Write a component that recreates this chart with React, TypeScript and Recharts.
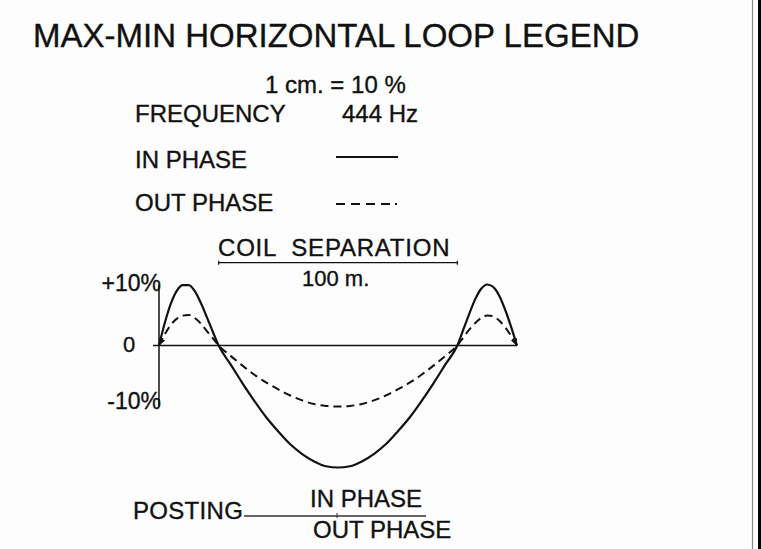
import React from 'react';
import { LineChart, Line, XAxis, YAxis, ReferenceLine } from 'recharts';

// distance along the profile, metres (coil separation = 100 m)
const distance = [
  0, 2.5, 5, 7.5, 10, 12.5, 15, 17.5, 20, 22.5, 25,
  30, 35, 40, 45, 50, 55, 60, 65, 70, 75, 80, 85, 90, 95, 100, 105, 110, 115, 120, 125,
  127.5, 130, 132.5, 135, 137.5, 140, 142.5, 145, 147.5, 150,
];

// in phase response, %
const inPhase = [
  0, 3.8, 6.9, 9.0, 9.9, 9.9, 8.9, 7.0, 4.7, 2.3, 0,
  -3.1, -6.2, -9.1, -11.8, -14.1, -16.2, -17.8, -19.0, -19.8, -20, -19.8, -19.0, -17.8, -16.2, -14.1, -11.8, -9.1, -6.2, -3.1, 0,
  2.6, 5.2, 7.6, 9.3, 10, 9.6, 8.2, 5.9, 3.1, 0,
];

// out phase response, %
const outPhase = [
  0, 1.9, 3.4, 4.4, 4.9, 5.0, 4.5, 3.6, 2.4, 1.2, 0,
  -1.7, -3.3, -4.8, -6.1, -7.2, -8.2, -9.0, -9.6, -9.9, -10, -9.9, -9.6, -9.0, -8.2, -7.2, -6.1, -4.8, -3.3, -1.7, 0,
  1.3, 2.6, 3.7, 4.5, 4.9, 4.8, 4.1, 3.0, 1.6, 0,
];

const yTickValues = [10, 0, -10];
const yTickLabels = ['+10%', '0', '-10%'];

const chartData = distance.map((d, i) => ({ d, inPhase: inPhase[i], outPhase: outPhase[i] }));

const W = 761;
const H = 549;
const PLOT_LEFT = 159;
const PLOT_RIGHT = 517;
const PLOT_TOP = 284.5;
const PLOT_BOTTOM = 467.5;
const PX_PER_UNIT = (PLOT_BOTTOM - PLOT_TOP) / 30;
const FONT = '"Liberation Sans", Arial, Helvetica, sans-serif';
const INK = '#111';

// small arrowheads where the loop curves come back onto the baseline
const renderArrow = (props: any) => {
  const { cx, cy, index } = props;
  const last = chartData.length - 1;
  if (cx == null || (index !== 0 && index !== last)) return <g key={`a${index}`} />;
  const ux = index === 0 ? -0.45 : 0.45;
  const uy = 0.89;
  const bx = cx - 7 * ux;
  const by = cy - 7 * uy;
  const px = -uy * 3;
  const py = ux * 3;
  const pts = `${cx},${cy} ${bx + px},${by + py} ${bx - px},${by - py}`;
  return <polygon key={`a${index}`} points={pts} fill={INK} stroke="none" />;
};

const Txt = ({ x, base, size = 24, right, spacing = 0, children }: any) => (
  <div
    style={{
      position: 'absolute',
      top: base - 0.8465 * size,
      ...(right ? { right: W - x } : { left: x }),
      fontSize: size,
      lineHeight: `${size}px`,
      letterSpacing: spacing,
      whiteSpace: 'pre',
      WebkitTextStroke: '0.35px #111',
    }}
  >
    {children}
  </div>
);

export default function App() {
  return (
    <div
      style={{
        position: 'absolute',
        left: 0,
        top: 0,
        width: W,
        height: H,
        background: '#fdfdfd',
        fontFamily: FONT,
        color: INK,
        overflow: 'hidden',
      }}
    >
      <div style={{ position: 'absolute', left: 0, top: 0 }}>
        <LineChart
          width={W}
          height={H}
          data={chartData}
          margin={{ top: PLOT_TOP, right: W - PLOT_RIGHT, bottom: H - PLOT_BOTTOM, left: PLOT_LEFT }}
        >
          <XAxis type="number" dataKey="d" domain={[0, 150]} hide />
          <YAxis type="number" domain={[-20, 10]} hide />
          {/* zero line and short vertical scale */}
          <ReferenceLine segment={[{ x: -2.5, y: 0 }, { x: 150, y: 0 }]} stroke={INK} strokeWidth={1.5} ifOverflow="visible" />
          <ReferenceLine segment={[{ x: 0, y: 10 }, { x: 0, y: -10 }]} stroke={INK} strokeWidth={1.5} ifOverflow="visible" />
          {/* coil separation bracket */}
          <ReferenceLine segment={[{ x: 25, y: 13.57 }, { x: 125, y: 13.57 }]} stroke={INK} strokeWidth={1.3} ifOverflow="visible" />
          <ReferenceLine segment={[{ x: 25, y: 13.9 }, { x: 25, y: 13.25 }]} stroke={INK} strokeWidth={1.2} ifOverflow="visible" />
          <ReferenceLine segment={[{ x: 125, y: 13.9 }, { x: 125, y: 13.25 }]} stroke={INK} strokeWidth={1.2} ifOverflow="visible" />
          <Line
            dataKey="outPhase"
            type="monotone"
            stroke={INK}
            strokeWidth={2}
            strokeDasharray="8 5"
            dot={renderArrow}
            activeDot={false}
            isAnimationActive={false}
          />
          <Line
            dataKey="inPhase"
            type="monotone"
            stroke={INK}
            strokeWidth={2.2}
            dot={renderArrow}
            activeDot={false}
            isAnimationActive={false}
          />
        </LineChart>
      </div>

      <Txt x={33} base={46.7} size={33}>MAX-MIN HORIZONTAL LOOP LEGEND</Txt>
      <Txt x={265} base={93.3}>1 cm. = 10 %</Txt>
      <Txt x={135} base={122.7}>FREQUENCY</Txt>
      <Txt x={342} base={122.7}>444 Hz</Txt>
      <Txt x={135} base={168.3}>IN PHASE</Txt>
      <Txt x={135} base={211.7}>OUT PHASE</Txt>
      <Txt x={218} base={256.7} spacing={0.8}>COIL  SEPARATION</Txt>
      <Txt x={302} base={286.7} size={22}>100 m.</Txt>

      {yTickValues.map((v, i) => {
        const base = PLOT_TOP + (10 - v) * PX_PER_UNIT + (v === 10 ? 7 : v === 0 ? 7 : 3);
        return v === 0 ? (
          <Txt key={v} x={123} base={base} size={22}>{yTickLabels[i]}</Txt>
        ) : (
          <Txt key={v} x={161} base={base} size={23} right>{yTickLabels[i]}</Txt>
        );
      })}

      <Txt x={133} base={519.3} spacing={0.3}>POSTING</Txt>
      <Txt x={310} base={507.3}>IN PHASE</Txt>
      <Txt x={313} base={538.3}>OUT PHASE</Txt>

      <svg width={W} height={H} style={{ position: 'absolute', left: 0, top: 0, pointerEvents: 'none' }}>
        {/* legend line samples */}
        <line x1={336} y1={157} x2={398} y2={157} stroke={INK} strokeWidth={2} />
        <line x1={336} y1={204} x2={390} y2={204} stroke={INK} strokeWidth={2} strokeDasharray="9 6" />
        <line x1={395} y1={204} x2={397} y2={204} stroke={INK} strokeWidth={2} />
        {/* posting fraction line */}
        <line x1={244} y1={516} x2={426} y2={516} stroke="#333" strokeWidth={1.3} />
        <line x1={337} y1={513} x2={337} y2={518} stroke="#333" strokeWidth={1} />
        {/* page frame on the right */}
        <line x1={752.5} y1={0} x2={752.5} y2={H} stroke="#888" strokeWidth={1.2} />
        <line x1={759.5} y1={0} x2={759.5} y2={H} stroke="#000" strokeWidth={3} />
      </svg>
    </div>
  );
}
